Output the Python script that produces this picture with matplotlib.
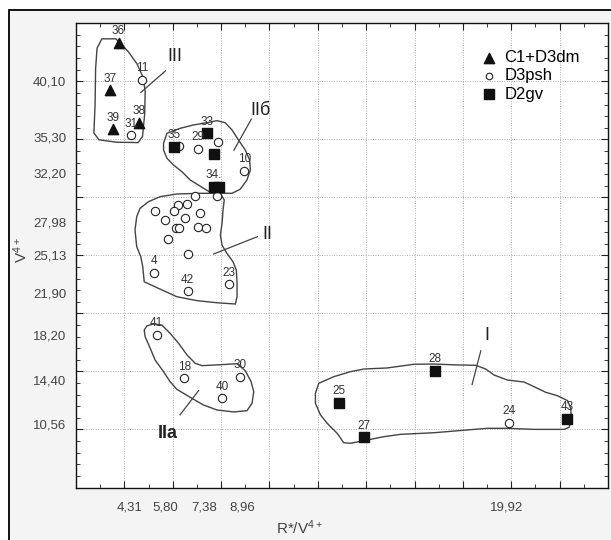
import matplotlib
matplotlib.use('Agg')
import matplotlib.pyplot as plt
from matplotlib.patches import Rectangle, Polygon
import numpy as np

plt.rcParams['font.family'] = ['Liberation Sans Narrow', 'Liberation Sans', 'DejaVu Sans']
plt.rcParams['mathtext.default'] = 'regular'

# --- data ---
# C1+D3dm (triangles)
tri_x = [3.86, 3.51, 4.70, 3.65]
tri_y = [43.40, 39.32, 36.55, 35.95]
tri_id = ['36', '37', '38', '39']

# D3psh (open circles)
circ_x = [4.83, 4.39, 6.37, 7.14, 7.98, 9.06, 7.95,
          7.04, 6.69, 6.33, 5.36, 6.17, 7.22, 5.80, 6.61, 6.25, 6.37, 7.14, 7.46,
          5.91, 6.72, 5.32, 6.72, 8.43,
          5.44, 6.58, 8.89, 8.14, 20.02]
circ_y = [40.21, 35.44, 34.55, 34.31, 34.91, 32.37, 30.20,
          30.26, 29.54, 29.48, 28.89, 28.89, 28.71, 28.17, 28.29, 27.43, 27.43, 27.58, 27.43,
          26.50, 25.22, 23.58, 22.00, 22.63,
          18.27, 14.52, 14.64, 12.79, 10.70]
circ_id = ['11', '31', '', '29', '', '10', '',
           '', '', '', '', '', '', '', '', '', '', '', '',
           '', '', '4', '42', '23',
           '41', '18', '30', '40', '24']

# D2gv (filled squares)
sq_x = [6.14, 7.53, 7.79, 7.79, 8.01, 12.97, 14.02, 16.95, 22.41]
sq_y = [34.46, 35.62, 33.83, 31.03, 30.97, 12.41, 9.42, 15.15, 11.00]
sq_id = ['35', '33', '', '34.', '', '25', '27', '28', '43']

# tick labels
xtick_vals = [4.31, 5.80, 7.38, 8.96, 19.92]
ytick_vals = [40.10, 35.30, 32.20, 27.98, 25.13, 21.90, 18.20, 14.40, 10.56]

# cluster outlines (hand drawn), data units
outline_III = [(3.17, 43.76), (3.75, 43.76), (4.26, 42.66), (4.62, 41.61), (4.88, 40.42),
               (4.96, 39.23), (4.94, 37.29), (4.85, 35.35), (4.67, 34.82), (3.78, 34.85),
               (3.05, 35.06), (2.84, 35.65), (2.89, 38.18), (2.91, 41.17), (2.97, 42.95)]
outline_IIb = [(5.72, 34.76), (5.86, 35.62), (6.41, 36.05), (6.96, 36.34), (7.51, 36.53),
               (7.93, 36.71), (8.27, 36.53), (8.55, 35.91), (8.82, 35.04), (9.10, 34.18),
               (9.28, 33.32), (9.31, 32.46), (9.17, 31.60), (8.89, 30.80), (8.55, 30.45),
               (7.72, 30.45), (7.31, 30.97), (6.82, 31.60), (6.48, 32.31), (6.13, 32.89),
               (5.86, 33.47), (5.72, 34.18)]
outline_II = [(8.07, 30.45), (8.23, 29.87), (8.18, 29.01), (8.14, 27.87), (8.07, 26.86),
              (8.14, 25.98), (8.34, 25.28), (8.59, 24.56), (8.73, 23.84), (8.76, 22.70),
              (8.76, 21.54), (8.69, 20.91), (7.93, 21.02), (7.10, 21.20), (6.27, 21.54),
              (5.72, 22.06), (5.30, 22.46), (4.92, 22.83), (4.86, 24.13), (4.78, 24.99),
              (4.61, 25.85), (4.54, 27.29), (4.61, 28.43), (4.75, 29.16), (5.10, 29.73),
              (5.58, 30.16), (6.27, 30.39), (7.24, 30.45)]
outline_IIa = [(5.03, 19.02), (5.30, 19.19), (5.65, 19.10), (5.99, 18.39), (6.34, 17.53),
               (6.69, 16.52), (7.03, 15.80), (7.31, 15.60), (8.07, 15.68), (8.76, 15.77),
               (9.10, 15.16), (9.34, 14.22), (9.45, 13.36), (9.38, 12.36), (9.17, 11.72),
               (8.62, 11.61), (7.93, 11.78), (7.37, 12.21), (6.89, 12.79), (6.27, 13.56),
               (5.99, 14.22), (5.72, 15.08), (5.37, 16.09), (5.17, 17.09), (4.96, 18.09),
               (4.92, 18.67)]
outline_I = [(12.14, 14.08), (12.76, 14.65), (13.45, 15.08), (14.00, 15.31), (14.97, 15.40),
             (16.07, 15.72), (16.90, 15.74), (17.87, 15.66), (18.63, 15.63), (19.04, 15.31),
             (19.39, 14.79), (19.94, 14.36), (20.63, 14.19), (21.04, 13.79), (21.53, 13.30),
             (22.01, 13.01), (22.43, 12.58), (22.56, 11.92), (22.59, 10.92), (22.49, 10.29),
             (22.29, 10.11), (21.04, 10.11), (19.94, 10.20), (19.11, 10.20), (18.28, 10.06),
             (16.90, 9.82), (15.52, 9.68), (14.83, 9.48), (14.14, 9.19), (13.45, 8.91),
             (13.17, 8.96), (12.90, 9.77), (12.49, 10.63), (12.21, 11.35), (12.00, 12.36),
             (12.00, 13.22)]

# cluster names: (text, text position, leader line start, leader line end)
clusters = [
    ('III', (6.20, 42.2), (5.80, 41.0), (4.78, 39.14)),
    ('IIб', (9.73, 37.6), (9.35, 36.84), (8.63, 34.16)),
    ('II', (10.0, 26.9), (9.60, 26.71), (7.79, 25.22)),
    ('IIa', (5.88, 9.72), (6.40, 11.36), (7.17, 13.45)),
    ('I', (19.10, 18.22), (18.84, 16.88), (18.48, 13.98)),
]

fig = plt.figure(figsize=(6.11, 5.40), dpi=100)
fig.patch.set_facecolor('white')
fig.patches.append(Rectangle((0.014, -0.1), 1.1, 1.0806, transform=fig.transFigure,
                             facecolor='#f4f4f4', edgecolor='black', lw=1.3, zorder=-10))

ax = fig.add_axes([0.1244, 0.0972, 0.8707, 0.8597])
ax.set_facecolor('white')
ax.set_xlim(2.1, 24.1)
ax.set_ylim(5.1, 45.1)

# grid at regular positions, labels at custom values
ax.set_xticks(np.arange(4.1, 23, 2))
ax.set_xticks(np.arange(3.1, 24, 1), minor=True)
ax.set_yticks(np.arange(10.1, 41, 5))
ax.set_yticks(np.arange(6.1, 45, 1), minor=True)
ax.set_xticklabels([])
ax.set_yticklabels([])
ax.grid(True, which='major', color='#b0b0b0', linestyle=(0, (1, 1.5)), lw=0.7)
ax.tick_params(which='both', direction='in', top=True, right=True, color='#222')
ax.tick_params(which='major', length=5)
ax.tick_params(which='minor', length=3)
for s in ax.spines.values():
    s.set_linewidth(1.0)
    s.set_color('#111')

secx = ax.secondary_xaxis('bottom')
secx.set_xticks(xtick_vals, labels=[f'{v:.2f}'.replace('.', ',') for v in xtick_vals])
secx.tick_params(length=0, pad=10, labelsize=9.5, labelcolor='#444')
secx.spines['bottom'].set_visible(False)

secy = ax.secondary_yaxis('left')
secy.set_yticks(ytick_vals, labels=[f'{v:.2f}'.replace('.', ',') for v in ytick_vals])
secy.tick_params(length=0, pad=7, labelsize=9.5, labelcolor='#444')
secy.spines['left'].set_visible(False)

ax.set_xlabel('R*/V$^{4+}$', fontsize=11, color='#444')
ax.set_ylabel('V$^{4+}$', fontsize=11, color='#444')
ax.xaxis.set_label_coords(0.421, -0.066)
ax.yaxis.set_label_coords(-0.086, 0.512)

# outlines
for pts in [outline_III, outline_IIb, outline_II, outline_IIa, outline_I]:
    ax.add_patch(Polygon(pts, closed=True, fill=False, edgecolor='#444', lw=1.0, zorder=2))

for name, tpos, l0, l1 in clusters:
    ax.plot([l0[0], l1[0]], [l0[1], l1[1]], color='#444', lw=0.9, zorder=2)
    ax.text(tpos[0], tpos[1], name, fontsize=13, ha='center', va='center', color='#222',
            fontweight='bold' if name == 'IIa' else 'normal')

# points
ax.scatter(tri_x, tri_y, marker='^', s=55, color='#111', zorder=4, label='C1+D3dm')
ax.scatter(circ_x, circ_y, marker='o', s=36, facecolor='white', edgecolor='#222',
           linewidths=0.8, zorder=4, label='D3psh')
ax.scatter(sq_x, sq_y, marker='s', s=48, color='#111', zorder=4, label='D2gv')

for xs, ys, ids in [(tri_x, tri_y, tri_id), (circ_x, circ_y, circ_id), (sq_x, sq_y, sq_id)]:
    for x, y, t in zip(xs, ys, ids):
        if t:
            ax.annotate(t, (x, y), xytext=(0, 4), textcoords='offset points',
                        ha='center', va='bottom', fontsize=8.5, color='#333', zorder=5)

leg = ax.legend(loc='upper left', bbox_to_anchor=(0.73, 0.975), frameon=False,
                fontsize=12, handletextpad=0.3, labelspacing=0.2, handlelength=1.2,
                scatterpoints=1)
leg.legend_handles[1].set_sizes([22])

fig.savefig('out.png', dpi=100)
